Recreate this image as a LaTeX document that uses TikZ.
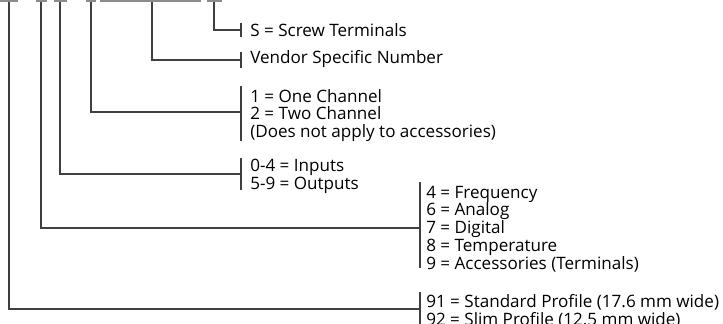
\documentclass[tikz,border=0pt]{standalone}
\usepackage{fontspec}
\setmainfont{Open Sans}
\begin{document}
\begin{tikzpicture}[x=0.75pt,y=-0.75pt,
  bar/.style={draw=none,fill=gray!90},
  conn/.style={draw=black!75,line width=0.8pt},
  brk/.style={draw=black!75,line width=0.8pt},
  lbl/.style={anchor=base west,inner sep=0pt,align=left,font=\fontsize{12.8}{13.35}\selectfont}]
\useasboundingbox (0,0) rectangle (723,324);
% top bars
\fill[bar] (0,0) rectangle (18,2.5);
\fill[bar] (36,0) rectangle (47,2.5);
\fill[bar] (54,0) rectangle (67,2.5);
\fill[bar] (86,0) rectangle (96,2.5);
\fill[bar] (100,0) rectangle (201,2.5);
\fill[bar] (207,0) rectangle (222,2.5);
% bar taps
\coordinate (t1) at (9,2.5);
\coordinate (t2) at (41,2.5);
\coordinate (t3) at (60,2.5);
\coordinate (t4) at (91,2.5);
\coordinate (t5) at (152,2.5);
\coordinate (t6) at (214,2.5);
% labels (base anchor = baseline of last line)
\node[lbl] (s) at (250,37) {S = Screw Terminals};
\node[lbl] (v) at (250,64) {Vendor Specific Number};
\node[lbl] (ch) at (250,137.6) {1 = One Channel\\2 = Two Channel\\(Does not apply to accessories)};
\node[lbl] (io) at (250,189.5) {0-4 = Inputs\\5-9 = Outputs};
\node[lbl] (ty) at (426,269.2) {4 = Frequency\\6 = Analog\\7 = Digital\\8 = Temperature\\9 = Accessories (Terminals)};
\node[lbl] (pr) at (426,325) {91 = Standard Profile (17.6 mm wide)\\92 = Slim Profile (12.5 mm wide)};
% brackets
\coordinate (bs1) at (241,23); \coordinate (bs2) at (241,37);
\coordinate (bv1) at (241,52); \coordinate (bv2) at (241,68);
\coordinate (bc1) at (241,86); \coordinate (bc2) at (241,141);
\coordinate (bi1) at (241,158); \coordinate (bi2) at (241,190);
\coordinate (bt1) at (420,182); \coordinate (bt2) at (420,268);
\coordinate (bp1) at (420,292); \coordinate (bp2) at (420,326);
\draw[brk] (bs1) -- (bs2);
\draw[brk] (bv1) -- (bv2);
\draw[brk] (bc1) -- (bc2);
\draw[brk] (bi1) -- (bi2);
\draw[brk] (bt1) -- (bt2);
\draw[brk] (bp1) -- (bp2);
% connectors
\draw[conn] (t6) |- (bs1 |- 0,30);
\draw[conn] (t5) |- (bv1 |- 0,60);
\draw[conn] (t4) |- (bc1 |- 0,112);
\draw[conn] (t3) |- (bi1 |- 0,174);
\draw[conn] (t2) |- (bt1 |- 0,228);
\draw[conn] (t1) |- (bp1 |- 0,309);
\end{tikzpicture}
\end{document}
